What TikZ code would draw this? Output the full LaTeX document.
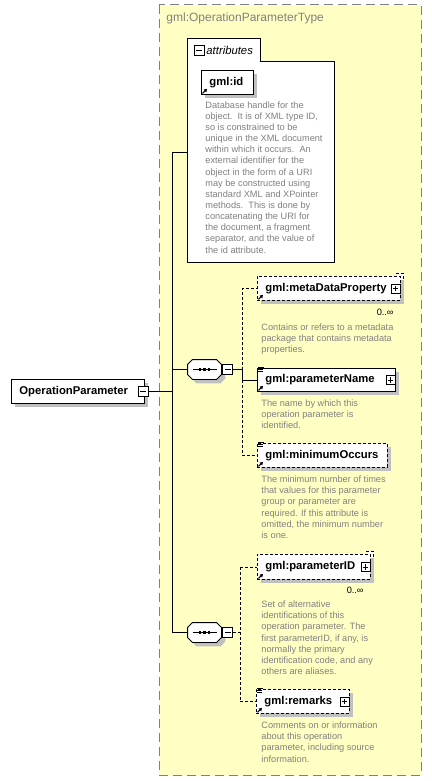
\documentclass[tikz,border=0pt]{standalone}
\usepackage{fontspec}
\setmainfont{Liberation Sans}
\usetikzlibrary{shadows,arrows.meta}
\definecolor{bgyellow}{RGB}{255,255,196}
\definecolor{bordergray}{RGB}{128,128,128}
\definecolor{descgray}{RGB}{128,128,128}
\definecolor{shadowgray}{RGB}{192,192,192}
\begin{document}
\begin{tikzpicture}[x=1pt,y=-1pt,line width=0.9pt,
  boxshadow/.style={general shadow={fill=shadowgray,shadow xshift=4pt,shadow yshift=-4pt}},
  elem/.style={draw,fill=white,anchor=north west,inner xsep=8pt,inner ysep=0pt,align=left,
    font=\bfseries\fontsize{11.3}{13}\selectfont,boxshadow},
  desc/.style={anchor=north west,inner sep=0pt,align=left,text=descgray,
    font=\fontsize{9.2}{11.15}\selectfont},
  multtext/.style={anchor=east,inner sep=0pt,font=\fontsize{9.2}{11}\selectfont},
  minusbox/.style={draw,fill=white,minimum size=10pt,inner sep=0pt,line width=0.8pt,
    path picture={\draw[line width=0.8pt] ([xshift=2pt]path picture bounding box.west) -- ([xshift=-2pt]path picture bounding box.east);}},
  plusbox/.style={draw,fill=white,minimum size=9pt,inner sep=0pt,line width=0.8pt,
    path picture={\draw[line width=0.8pt] ([xshift=1.8pt]path picture bounding box.west) -- ([xshift=-1.8pt]path picture bounding box.east);
      \draw[line width=0.8pt] ([yshift=-1.8pt]path picture bounding box.north) -- ([yshift=1.8pt]path picture bounding box.south);}},
  seqbox/.style={minimum width=33pt,minimum height=19pt,inner sep=0pt},
  refarrow/.style={-{Triangle[length=3pt,width=3.6pt]},line width=1pt},
  conn/.style={line width=0.9pt},
  optconn/.style={line width=0.9pt,dashed,dash pattern=on 3pt off 2pt},
  optbox/.style={dash pattern=on 3pt off 2pt}
]
\useasboundingbox (0,0) rectangle (431,781);

% type container
\draw[fill=bgyellow,draw=bordergray,line width=1pt,dash pattern=on 9pt off 5pt] (159,5) rectangle (421,775);
\node[anchor=west,inner sep=0pt,text=bordergray,font=\fontsize{12}{14}\selectfont] (title) at (166,18) {gml:OperationParameterType};

% attributes box
\draw[fill=white] (187,38) -- (260,38) -- (260,61) -- (334,61) -- (334,262) -- (187,262) -- cycle;
\coordinate (attrW) at (187,152);
\node[minusbox] (attrM) at (199,50) {};
\node[anchor=west,inner sep=0pt,font=\itshape\fontsize{11.3}{13}\selectfont] (attrLabel) at (206,50) {attributes};

\node[elem,minimum height=24pt,text width=36pt] (gmlid) at (201,70) {\mbox{gml:id}};
\draw[refarrow] ([xshift=1.5pt,yshift=1.5pt]gmlid.south west) -- ++(4.5,-4.5);
\node[desc] (iddesc) at (205,101) {Database handle for the\\object.\ \ It is of XML type ID,\\so is constrained to be\\unique in the XML document\\within which it occurs.\ \ An\\external identifier for the\\object in the form of a URI\\may be constructed using\\standard XML and XPointer\\methods.\ \ This is done by\\concatenating the URI for\\the document, a fragment\\separator, and the value of\\the id attribute.};

% root element
\node[elem,minimum height=24pt,text width=117pt] (opName) at (11,379) {\mbox{OperationParameter}};
\node[minusbox] (opM) at (143,391) {};

% sequence compositors
\node[seqbox] (seq1) at (204.5,369.5) {};
\node[seqbox] (seq2) at (204.5,632.5) {};
\foreach \s in {seq1,seq2}{
  \draw[fill=white,boxshadow] ([xshift=5pt]\s.north west) -- ([xshift=-5pt]\s.north east) -- ([yshift=-5pt]\s.north east) -- ([yshift=5pt]\s.south east) -- ([xshift=-5pt]\s.south east) -- ([xshift=5pt]\s.south west) -- ([yshift=5pt]\s.south west) -- ([yshift=-5pt]\s.north west) -- cycle;
  \draw[line width=0.9pt] ([xshift=-12pt]\s.center) -- ([xshift=12pt]\s.center);
  \foreach \dx in {-4.5,0,4.5}{
    \fill ([xshift=\dx pt]\s.center) +(-1.4,-1.4) rectangle +(1.4,1.4);
  }
}
\node[minusbox,anchor=west] (seq1M) at ([xshift=1pt]seq1.east) {};
\node[minusbox,anchor=west] (seq2M) at ([xshift=1pt]seq2.east) {};

% elements of sequence 1
\draw[optbox,fill=white] (396,273) -| (403,297) -- (400,297);
\node[elem,optbox,minimum height=24pt,text width=127pt] (meta) at (257,276) {\mbox{gml:metaDataProperty}};
\node[plusbox,anchor=east] (metaP) at ([xshift=-0.5pt]meta.east) {};
\draw[refarrow] ([xshift=1.5pt,yshift=1.5pt]meta.south west) -- ++(4.5,-4.5);
\node[multtext] (metaMult) at (394,312) {0..∞};
\node[desc] (metadesc) at (261,323.5) {Contains or refers to a metadata\\package that contains metadata\\properties.};

\node[elem,minimum height=23pt,text width=122pt] (pName) at (257,368) {\mbox{gml:parameterName}};
\node[plusbox,anchor=east] (pNameP) at ([xshift=-0.5pt]pName.east) {};
\draw[refarrow] ([xshift=1.5pt,yshift=1.5pt]pName.south west) -- ++(4.5,-4.5);
\draw[line width=0.7pt] ([xshift=1pt,yshift=1pt]pName.north west) -- ++(6,0) ++(-6,2) -- ++(5,0) ++(-5,2) -- ++(5,0);
\node[desc] (pNamedesc) at (261,399.5) {The name by which this\\operation parameter is\\identified.};

\node[elem,optbox,minimum height=24pt,text width=114pt] (minOcc) at (257,443) {\mbox{gml:minimumOccurs}};
\draw[refarrow] ([xshift=1.5pt,yshift=1.5pt]minOcc.south west) -- ++(4.5,-4.5);
\draw[line width=0.7pt] ([xshift=1pt,yshift=1pt]minOcc.north west) -- ++(6,0) ++(-6,2) -- ++(5,0) ++(-5,2) -- ++(5,0);
\node[desc] (minOccdesc) at (261,475.5) {The minimum number of times\\that values for this parameter\\group or parameter are\\required. If this attribute is\\omitted, the minimum number\\is one.};

% elements of sequence 2
\draw[optbox,fill=white] (366,551) -| (373,575) -- (370,575);
\node[elem,optbox,minimum height=25pt,text width=97pt] (pID) at (257,554) {\mbox{gml:parameterID}};
\node[plusbox,anchor=east] (pIDP) at ([xshift=-0.5pt]pID.east) {};
\draw[refarrow] ([xshift=1.5pt,yshift=1.5pt]pID.south west) -- ++(4.5,-4.5);
\node[multtext] (pIDMult) at (364,590) {0..∞};
\node[desc] (pIDdesc) at (261,600.5) {Set of alternative\\identifications of this\\operation parameter. The\\first parameterID, if any, is\\normally the primary\\identification code, and any\\others are aliases.};

\node[elem,optbox,minimum height=24pt,text width=77pt] (remarks) at (256,689) {\mbox{gml:remarks}};
\node[plusbox,anchor=east] (remarksP) at ([xshift=-0.5pt]remarks.east) {};
\draw[refarrow] ([xshift=1.5pt,yshift=1.5pt]remarks.south west) -- ++(4.5,-4.5);
\draw[line width=0.7pt] ([xshift=1pt,yshift=1pt]remarks.north west) -- ++(6,0) ++(-6,2) -- ++(5,0) ++(-5,2) -- ++(5,0);
\node[desc] (remarksdesc) at (261,721.5) {Comments on or information\\about this operation\\parameter, including source\\information.};

% connectors
\coordinate (tTop) at (172,152);
\coordinate (tBot) at (172,632.5);
\draw[conn] (tTop) -- (tBot);
\draw[conn] (tTop) -- (attrW);
\draw[conn] (opM.east) -- (opM.east -| tTop);
\draw[conn] (seq1.west -| tTop) -- (seq1.west);
\draw[conn] (tBot) -- (seq2.west);

\coordinate (fork1) at (242,369.5);
\draw[conn] (seq1M.east) -- (fork1);
\draw[optconn] (fork1) -- (fork1 |- meta.west) -- (meta.west);
\draw[conn] (fork1) -- (fork1 |- pName.west) -- (pName.west);
\draw[optconn] (fork1 |- pName.west) -- (fork1 |- minOcc.west) -- (minOcc.west);

\coordinate (fork2) at (240,632.5);
\draw[optconn] (seq2M.east) -- (fork2);
\draw[optconn] (fork2 |- pID.west) -- (fork2 |- remarks.west);
\draw[optconn] (fork2 |- pID.west) -- (pID.west);
\draw[optconn] (fork2 |- remarks.west) -- (remarks.west);
\end{tikzpicture}
\end{document}
